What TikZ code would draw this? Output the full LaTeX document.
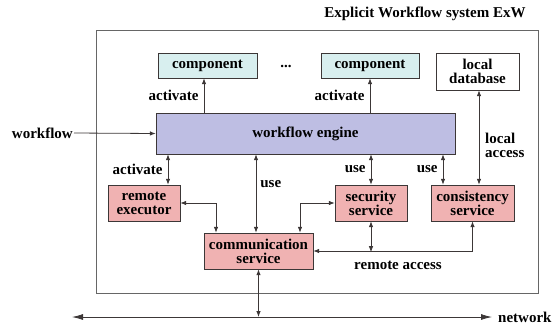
\documentclass[tikz,border=0pt]{standalone}
\usepackage{fontspec}
\setmainfont{Liberation Serif}
\usetikzlibrary{arrows.meta,calc}
\definecolor{compfill}{RGB}{216,239,239}
\definecolor{enginefill}{RGB}{190,190,227}
\definecolor{servfill}{RGB}{240,178,178}
\definecolor{linegray}{RGB}{60,55,55}
\tikzset{
  txt/.style={font=\fontsize{15}{14}\selectfont\bfseries, inner sep=1pt, align=center},
  compbox/.style={txt, draw=linegray, fill=compfill, minimum height=25pt},
  servbox/.style={txt, draw=linegray, fill=servfill, minimum height=36pt},
  link/.style={draw=linegray, line width=0.8pt, -{Latex[length=6pt,width=4.5pt]}},
  dlink/.style={draw=linegray, line width=0.8pt, {Latex[length=6pt,width=4.5pt]}-{Latex[length=6pt,width=4.5pt]}},
}
\begin{document}
\begin{tikzpicture}[x=1pt,y=1pt,yscale=-1,xscale=1]
\useasboundingbox (0,0) rectangle (557,325);

%Shape: Rectangle [id:system]
\draw [draw=gray!80!black, line width=0.8pt] (96,30) rectangle (538,293);
% Text Node
\node [txt] (title) at (425,14) {Explicit Workflow system ExW};

%Shape: Boxes
\node [compbox, minimum width=99pt] (comp1) at (207.5,65.5) {component};
\node [txt] (dots) at (286,66) {...};
\node [compbox, minimum width=98pt] (comp2) at (370,65.5) {component};
\node [txt, draw=linegray, fill=white, minimum width=83pt, minimum height=37pt] (localdb) at (477.5,71.5) {local\\database};
\node [txt, draw=linegray, fill=enginefill, minimum width=299pt, minimum height=41pt] (engine) at (305.5,133.5) {workflow engine};
\node [servbox, minimum width=72pt] (executor) at (144,203) {remote\\executor};
\node [servbox, minimum width=72pt] (security) at (371,203) {security\\service};
\node [servbox, minimum width=83pt] (consistency) at (472.5,203) {consistency\\service};
\node [servbox, minimum width=109pt] (comm) at (258.5,251) {communication\\service};

% Text Node
\node [txt, anchor=east] (wflabel) at (74,133) {workflow};
\node [txt, anchor=west] (netlabel) at (497,317) {network};
\coordinate (netleft) at (72,317);
\coordinate (netright) at (492,317);

%Connectors
\draw [link] (wflabel.east) -- (engine.west);
\draw [link] (engine.north -| {$(comp1.south)+(-3.5,0)$}) -- ($(comp1.south)+(-3.5,0)$)
  node [txt, pos=0.5, anchor=east, xshift=-4pt] (act1) {activate};
\draw [link] (engine.north -| comp2.south) -- (comp2.south)
  node [txt, pos=0.5, anchor=east, xshift=-4pt] (act2) {activate};
\draw [dlink] (localdb.south -| {$(consistency.north)+(6.5,0)$}) -- ($(consistency.north)+(6.5,0)$);
\node [txt, anchor=west, align=left] (locacc) at (484,145) {local\\access};

\draw [dlink] (engine.south -| {$(executor.north)+(24,0)$}) -- ($(executor.north)+(24,0)$)
  node [txt, pos=0.5, anchor=east, xshift=-4pt] (act3) {activate};
\draw [dlink] (engine.south -| {$(comm.north)+(-2.5,0)$}) -- ($(comm.north)+(-2.5,0)$)
  node [txt, pos=0.38, anchor=west, xshift=3pt] (use1) {use};
\draw [dlink] (engine.south -| security.north) -- (security.north)
  node [txt, pos=0.5, anchor=east, xshift=-4pt] (use2) {use};
\draw [dlink] (engine.south -| {$(consistency.north)+(-29.5,0)$}) -- ($(consistency.north)+(-29.5,0)$)
  node [txt, pos=0.5, anchor=east, xshift=-4pt] (use3) {use};

\draw [dlink] (executor.east) -| ($(comm.north)+(-42.5,0)$);
\draw [dlink] (security.west) -| ($(comm.north)+(41.5,0)$);
\coordinate (ra) at ($(security.south)+(0,31)$);
\draw [dlink] (security.south) -- (ra);
\draw [dlink] (consistency.south) |- (comm.east);
\node [txt] (remacc) at (398,265) {remote access};

\draw [dlink] (comm.south) -- (comm.south |- netleft);
\draw [draw=linegray, line width=0.8pt, {Latex[length=11pt,width=6pt]}-{Latex[length=11pt,width=6pt]}] (netleft) -- (netright);

\end{tikzpicture}
\end{document}
